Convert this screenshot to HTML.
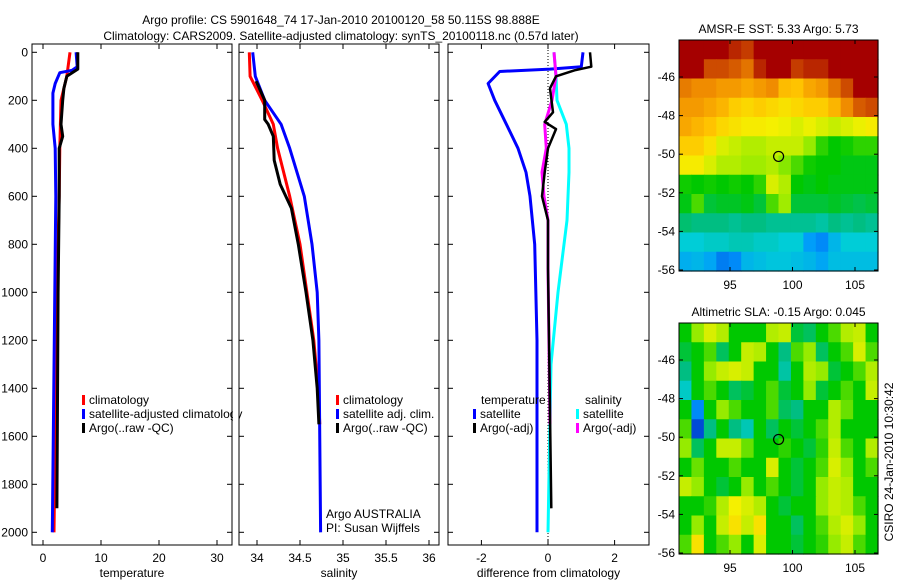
<!DOCTYPE html>
<html><head><meta charset="utf-8"><style>
body{margin:0;background:#fff;font-family:"Liberation Sans",sans-serif}
svg text{font-family:"Liberation Sans",sans-serif;font-size:12px;fill:#000}
</style></head><body>
<svg id="fig" width="900" height="580" xmlns="http://www.w3.org/2000/svg">
<rect width="900" height="580" fill="#fff"/>
<text x="341" y="24" text-anchor="middle" font-size="13">Argo profile: CS 5901648_74 17-Jan-2010 20100120_58 50.115S 98.888E</text>
<text x="341" y="40" text-anchor="middle" font-size="13">Climatology: CARS2009. Satellite-adjusted climatology: synTS_20100118.nc (0.57d later)</text>
<g id="g"></g>
</svg>
<script>
// ---- Profile data (depth m, value) ----
const tClimDepth=[0,100,200,400,600,1000,2000];
const tClimVal=[4.65,4.1,3.1,2.9,2.8,2.4,1.9];
const tSatDepth=[0,60,75,85,130,170,300,400,600,2000];
const tSatVal=[5.7,5.9,5.0,2.9,2.1,1.7,1.7,2.1,2.2,1.6];
const tArgoDepth=[0,70,100,150,200,300,350,400,600,1000,1900];
const tArgoVal=[6.0,6.0,4.1,3.6,3.4,3.1,3.4,2.8,2.8,2.6,2.4];
const sClimDepth=[0,100,200,300,400,600,800,1000,1200,1400,1550];
const sClimVal=[33.91,33.92,34.06,34.19,34.24,34.38,34.5,34.58,34.66,34.71,34.73];
const sSatDepth=[0,100,200,300,400,600,800,1000,1200,2000];
const sSatVal=[33.95,33.98,34.09,34.28,34.38,34.55,34.64,34.70,34.72,34.74];
const sArgoDepth=[120,200,280,300,350,450,550,650,800,1000,1200,1400,1550];
const sArgoVal=[33.99,34.09,34.09,34.13,34.19,34.2,34.27,34.4,34.48,34.57,34.65,34.7,34.72];
const dTSatDepth=[0,60,70,80,130,200,300,400,500,600,800,1200,2000];
const dTSatVal=[1.05,1.0,0.06,-1.45,-1.8,-1.6,-1.25,-0.9,-0.66,-0.54,-0.4,-0.33,-0.33];
const dTArgoDepth=[0,60,75,100,150,250,290,320,400,500,600,700,900,1900];
const dTArgoVal=[1.26,1.3,0.8,0.24,0.06,0.15,-0.1,0.24,0,-0.1,-0.18,0,0,0.1];
const dSArgoDepth=[0,100,200,300,400,500,600,700,900,1550];
const dSArgoVal=[0.18,0.24,0.12,-0.1,-0.05,-0.18,-0.12,0,0,0.06];
const dSSatDepth=[0,100,200,300,400,500,700,800,1000,1300,2000];
const dSSatVal=[0.18,0.24,0.27,0.55,0.63,0.63,0.57,0.48,0.3,0.09,0];
const depthTicks=[0,200,400,600,800,1000,1200,1400,1600,1800,2000];
const tempTicks=[0,10,20,30];
const salTicks=[34,34.5,35,35.5,36];
const diffTicks=[-2,0,2];
// ---- Map data (colormap index 0..1), rows north->south ----
const sstGrid=[
[1,1,1,1,.95,.92,1,1,1,1,1,1,1,1,1,1],
[1,1,.9,.9,.88,.85,.95,1,1,.92,.95,.95,1,1,1,1],
[.84,.82,.82,.8,.8,.78,.8,.82,.75,.74,.78,.8,.85,.9,1,1],
[.8,.8,.78,.76,.72,.7,.72,.7,.68,.7,.72,.72,.76,.82,.88,.9],
[.78,.76,.74,.7,.68,.66,.66,.65,.64,.62,.64,.62,.6,.62,.64,.66],
[.72,.72,.68,.62,.6,.58,.58,.6,.6,.6,.55,.48,.45,.46,.48,.48],
[.66,.66,.62,.58,.58,.56,.56,.58,.54,.5,.46,.45,.45,.44,.44,.44],
[.46,.45,.46,.45,.46,.45,.48,.62,.58,.45,.44,.45,.44,.44,.44,.44],
[.44,.5,.42,.43,.43,.44,.42,.5,.56,.42,.42,.42,.43,.42,.41,.42],
[.39,.38,.38,.38,.37,.38,.38,.37,.37,.37,.37,.36,.38,.37,.38,.37],
[.33,.33,.34,.34,.35,.35,.34,.34,.33,.33,.27,.25,.3,.33,.33,.33],
[.29,.3,.28,.24,.25,.3,.31,.32,.32,.31,.3,.28,.31,.31,.31,.31]];
const slaGrid=[
[.45,.55,.62,.58,.45,.45,.45,.58,.6,.42,.4,.45,.5,.58,.6,.45],
[.42,.45,.5,.4,.45,.6,.58,.45,.38,.5,.55,.4,.45,.5,.62,.5],
[.38,.45,.55,.6,.62,.6,.45,.45,.36,.45,.58,.55,.42,.45,.5,.58],
[.34,.45,.5,.45,.4,.42,.45,.5,.42,.45,.55,.42,.45,.5,.45,.6],
[.45,.25,.45,.55,.5,.45,.45,.5,.4,.38,.45,.45,.58,.52,.45,.45],
[.5,.2,.38,.45,.38,.35,.45,.4,.45,.42,.45,.5,.58,.45,.45,.45],
[.55,.4,.45,.6,.6,.52,.45,.45,.48,.45,.42,.48,.6,.5,.45,.58],
[.45,.52,.45,.45,.5,.45,.45,.62,.45,.42,.45,.5,.62,.55,.45,.5],
[.6,.55,.45,.42,.45,.55,.45,.5,.45,.42,.45,.55,.6,.58,.45,.45],
[.45,.45,.48,.58,.65,.62,.58,.45,.42,.45,.45,.55,.6,.58,.5,.45],
[.45,.55,.45,.6,.68,.6,.68,.45,.45,.4,.45,.5,.58,.62,.55,.45],
[.5,.68,.45,.5,.55,.45,.62,.45,.45,.42,.45,.48,.55,.6,.5,.45]];
const lonTicks=[95,100,105];
const latTicks=[-46,-48,-50,-52,-54,-56];
const floatLon=[98.888];
const floatLat=[-50.115];

const NS='http://www.w3.org/2000/svg';
const G=document.getElementById('g');
function mk(tag,at,parent){const e=document.createElementNS(NS,tag);for(const k in at)e.setAttribute(k,at[k]);(parent||G).appendChild(e);return e;}
function txt(x,y,s,anchor,parent){const t=mk('text',{x:x,y:y,'text-anchor':anchor||'start'},parent);t.textContent=s;return t;}
const yD=d=>52.3+d*0.24;
const yTop=44,yBot=545;
function panel(name,x0,x1,xs,ticks,label,showY){
  const g=mk('g',{});
  
  
  const r=mk('rect',{x:x0,y:yTop,width:x1-x0,height:yBot-yTop,fill:'none',stroke:'#000','stroke-width':1},g);
  
  
  ticks.forEach(v=>{const x=xs(v);
    mk('line',{x1:x,x2:x,y1:yBot,y2:yBot-5,stroke:'#000'},g);
    mk('line',{x1:x,x2:x,y1:yTop,y2:yTop+5,stroke:'#000'},g);
    const t=txt(x,562,String(v),'middle',g);
    
    });
  depthTicks.forEach(d=>{const y=yD(d);
    mk('line',{x1:x0,x2:x0+5,y1:y,y2:y,stroke:'#000'},g);
    mk('line',{x1:x1,x2:x1-5,y1:y,y2:y,stroke:'#000'},g);
    if(showY){const t=txt(x0-4,y+4,String(d),'end',g);
      
      }});
  const l=txt((x0+x1)/2,577,label,'middle',g);
  
  
  return g;
}
function line(g,xs,dep,val,color,name,w){
  const pts=dep.map((d,i)=>xs(val[i]).toFixed(1)+','+yD(d).toFixed(1)).join(' ');
  const p=mk('polyline',{points:pts,fill:'none',stroke:color,'stroke-width':w||3,'stroke-linejoin':'round'},g);
  
  
}
function legend(g,x,y,color,label,name){
  mk('rect',{x:x,y:y-9,width:3,height:10,fill:color},g);
  const t=txt(x+7,y,label,'start',g);
  
  
}
// Temperature
const xT=v=>43+v*5.8;
const p1=panel('temperature-panel',32,232,xT,tempTicks,'temperature',true);
line(p1,xT,tClimDepth,tClimVal,'#f00','temp-climatology-line');
line(p1,xT,tSatDepth,tSatVal,'#00f','temp-satellite-line');
line(p1,xT,tArgoDepth,tArgoVal,'#000','temp-argo-line');
legend(p1,82,404,'#f00','climatology','legend-climatology');
legend(p1,82,418,'#00f','satellite-adjusted climatology','legend-satellite');
legend(p1,82,432,'#000','Argo(..raw -QC)','legend-argo');
mk('rect',{x:233,y:380,width:6,height:60,fill:'#fff'});
// Salinity
const xS=v=>257+(v-34)*86;
const p2=panel('salinity-panel',239,439,xS,salTicks,'salinity',false);
line(p2,xS,sClimDepth,sClimVal,'#f00','sal-climatology-line');
line(p2,xS,sSatDepth,sSatVal,'#00f','sal-satellite-line');
line(p2,xS,sArgoDepth,sArgoVal,'#000','sal-argo-line');
legend(p2,336,404,'#f00','climatology','legend-s-climatology');
legend(p2,336,418,'#00f','satellite adj. clim.','legend-s-satellite');
legend(p2,336,432,'#000','Argo(..raw -QC)','legend-s-argo');
let t1=txt(326,518,'Argo AUSTRALIA','start',p2);
let t2=txt(326,532,'PI: Susan Wijffels','start',p2);
// Difference
const xDf=v=>548+v*33.3;
const p3=panel('difference-panel',448,649,xDf,diffTicks,'difference from climatology',false);
mk('line',{x1:xDf(0),x2:xDf(0),y1:yTop,y2:yBot,stroke:'#000','stroke-dasharray':'1,2'},p3);
line(p3,xDf,dTSatDepth,dTSatVal,'#00f','diff-temp-satellite-line');
line(p3,xDf,dSSatDepth,dSSatVal,'#0ff','diff-sal-satellite-line');
line(p3,xDf,dSArgoDepth,dSArgoVal,'#f0f','diff-sal-argo-line');
line(p3,xDf,dTArgoDepth,dTArgoVal,'#000','diff-temp-argo-line',2.5);
let h1=txt(481,404,'temperature','start',p3);
let h2=txt(585,404,'salinity','start',p3);
legend(p3,473,418,'#00f','satellite','legend-d-temp-satellite');
legend(p3,473,432,'#000','Argo(-adj)','legend-d-temp-argo');
legend(p3,576,418,'#0ff','satellite','legend-d-sal-satellite');
legend(p3,576,432,'#f0f','Argo(-adj)','legend-d-sal-argo');
// custom colormap (matches reference palette)
const cmapStops=[[0.18,[0,50,200]],[0.26,[0,150,255]],[0.33,[0,205,215]],[0.38,[0,190,130]],[0.45,[0,200,0]],[0.55,[150,235,0]],[0.65,[245,240,0]],[0.74,[255,195,0]],[0.82,[240,140,0]],[0.9,[205,75,0]],[1.0,[165,0,0]]];
function cmap(v){
  if(v<=cmapStops[0][0])return 'rgb('+cmapStops[0][1].join(',')+')';
  for(let i=1;i<cmapStops.length;i++){const [a,ca]=cmapStops[i-1],[b,cb]=cmapStops[i];
    if(v<=b){const f=(v-a)/(b-a);return 'rgb('+ca.map((c,k)=>Math.round(c+(cb[k]-c)*f)).join(',')+')';}}
  return 'rgb(165,0,0)';
}
function map(name,top,grid,title){
  const x0=679,x1=878,bot=top+231;
  const lonX=lon=>730+(lon-95)*12.5;
  const latY=lat=>top+37+(-46-lat)*19.3;
  const g=mk('g',{});
  
  
  const rows=grid.length,cols=grid[0].length,cw=(x1-x0)/cols,ch=(bot-top)/rows;
  grid.forEach((row,i)=>row.forEach((v,j)=>{
    const r=mk('rect',{x:x0+j*cw,y:top+i*ch,width:cw+0.6,height:ch+0.6,fill:cmap(v)},g);
    
    
  }));
  mk('rect',{x:x0,y:top,width:x1-x0,height:bot-top,fill:'none',stroke:'#000'},g);
  lonTicks.forEach(l=>{const x=lonX(l);
    mk('line',{x1:x,x2:x,y1:bot,y2:bot-4,stroke:'#000'},g);mk('line',{x1:x,x2:x,y1:top,y2:top+4,stroke:'#000'},g);
    const t=txt(x,bot+18,String(l),'middle',g);});
  latTicks.forEach(l=>{const y=latY(l);
    mk('line',{x1:x0,x2:x0+4,y1:y,y2:y,stroke:'#000'},g);mk('line',{x1:x1,x2:x1-4,y1:y,y2:y,stroke:'#000'},g);
    const t=txt(x0-4,y+4,String(l),'end',g);});
  const t=txt((x0+x1)/2,top-7,title,'middle',g);
  const c=mk('circle',{cx:lonX(floatLon[0]),cy:latY(floatLat[0]),r:5,fill:'none',stroke:'#000','stroke-width':1.2},g);
  
  
}
map('sst-map',40,sstGrid,'AMSR-E SST: 5.33 Argo: 5.73');
map('sla-map',323,slaGrid,'Altimetric SLA: -0.15 Argo: 0.045');
const cs=txt(0,0,'CSIRO 24-Jan-2010 10:30:42','middle');
cs.setAttribute('transform','translate(893,462) rotate(-90)');


</script>
</body></html>
